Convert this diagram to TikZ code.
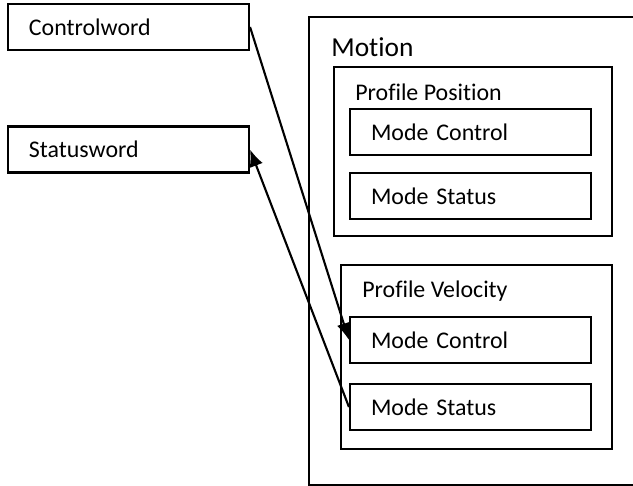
\documentclass[tikz,border=0pt]{standalone}
\usepackage{fontspec}
\setmainfont{Carlito}[Ligatures=NoCommon]
\usepackage{tikz}
\usetikzlibrary{arrows.meta,positioning,calc}

\tikzset{
	wordbox/.style={draw, line width=1.2pt, minimum height=0.92cm, text width=3.98cm, inner xsep=0.42cm, align=left, font=\fontsize{13.6}{16}\selectfont},
	groupbox/.style={draw, line width=1.2pt},
	grouplabel/.style={anchor=west, inner sep=0pt, font=\fontsize{13.6}{16}\selectfont},
	link/.style={line width=1.2pt, -{Latex[length=0.34cm, width=0.28cm]}}
}

\begin{document}
\begin{tikzpicture}
		\useasboundingbox (0,0) rectangle (12.66,-9.72);

		\node[wordbox] (ctrl) at (2.57,-0.54) {Controlword};
		\node[wordbox] (status) at (2.57,-2.99) {Statusword};

		\node[groupbox, minimum width=6.9cm, minimum height=9.36cm] (motion) at (9.63,-5.02) {};
		\node[grouplabel, font=\fontsize{15.6}{18}\selectfont] (motionlbl) at (6.62,-0.94) {Motion};

		\node[groupbox, minimum width=5.56cm, minimum height=3.38cm] (pp) at (9.46,-3.03) {};
		\node[grouplabel] (pplbl) at (7.10,-1.85) {Profile Position};
		\node[wordbox] (ppctrl) at (9.41,-2.64) {Mode Control};
		\node[wordbox] (ppstatus) at (9.41,-3.92) {Mode Status};

		\node[groupbox, minimum width=5.42cm, minimum height=3.68cm] (pv) at (9.53,-7.14) {};
		\node[grouplabel] (pvlbl) at (7.24,-5.82) {Profile Velocity};
		\node[wordbox] (pvctrl) at (9.41,-6.80) {Mode Control};
		\node[wordbox] (pvstatus) at (9.41,-8.14) {Mode Status};

		\draw[link] (ctrl.east) -- (pvctrl.west);
		\draw[link] (pvstatus.west) -- (status.east);
	\end{tikzpicture}
\end{document}
